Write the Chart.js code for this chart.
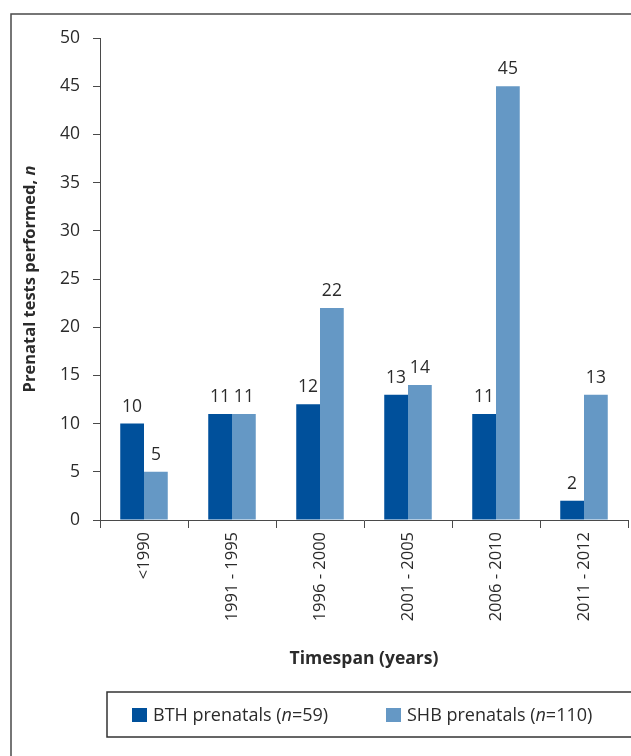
<!DOCTYPE html>
<html>
<head>
<meta charset="utf-8">
<script src="https://cdn.jsdelivr.net/npm/chart.js@4/dist/chart.umd.min.js"></script>
<style>
  body { margin: 0; background: #fff; }
  canvas { display: block; }
</style>
</head>
<body>
<canvas id="myChart" width="631" height="756"></canvas>
<script>
"use strict";

// chart data
const categories = ['<1990', '1991 - 1995', '1996 - 2000', '2001 - 2005', '2006 - 2010', '2011 - 2012'];
const bthValues  = [10, 11, 12, 13, 11, 2];
const shbValues  = [5, 11, 22, 14, 45, 13];
const yTicks     = [0, 5, 10, 15, 20, 25, 30, 35, 40, 45, 50];

// texts split so the n can be italic
const bthLegend = ['BTH prenatals (', 'n', '=59)'];
const shbLegend = ['SHB prenatals (', 'n', '=110)'];
const yTitle    = ['Prenatal tests performed, ', 'n'];

const FONT      = '"Open Sans", sans-serif';
const darkBlue  = '#00509b';
const lightBlue = '#6598c5';
const inkColor  = '#2b2b2b';
const lineColor = '#4a4a4a';

// frame around the figure
const framePlugin = {
    id: 'frame',
    beforeDraw(chart) {
        const ctx = chart.ctx;
        ctx.save();
        ctx.fillStyle = '#fff';
        ctx.fillRect(0, 0, chart.width, chart.height);
        ctx.strokeStyle = lineColor;
        ctx.lineWidth = 1.5;
        ctx.strokeRect(11, 14, 700, 800);
        ctx.restore();
    }
};

// value labels above the bars
const valueLabels = {
    id: 'valueLabels',
    afterDatasetsDraw(chart) {
        const ctx = chart.ctx;
        ctx.save();
        ctx.font = '17.5px ' + FONT;
        ctx.fillStyle = inkColor;
        ctx.textAlign = 'center';
        ctx.textBaseline = 'alphabetic';
        chart.data.datasets.forEach(function(ds, i) {
            chart.getDatasetMeta(i).data.forEach(function(bar, j) {
                ctx.fillText(String(ds.data[j]), bar.x, bar.y - 12);
            });
        });
        ctx.restore();
    }
};

// y title with an italic n, centred on the plot area
const yTitlePlugin = {
    id: 'yTitle',
    afterDraw(chart) {
        const ctx = chart.ctx;
        const area = chart.chartArea;
        const fonts = ['bold 16.5px ' + FONT, 'italic bold 16.5px ' + FONT];
        ctx.save();
        let total = 0;
        yTitle.forEach(function(part, k) {
            ctx.font = fonts[k];
            total += ctx.measureText(part).width;
        });
        const midY = (area.top + area.bottom) / 2;
        ctx.translate(30, midY + total / 2);
        ctx.rotate(-Math.PI / 2);
        ctx.fillStyle = inkColor;
        ctx.textAlign = 'left';
        ctx.textBaseline = 'middle';
        let x = 0;
        yTitle.forEach(function(part, k) {
            ctx.font = fonts[k];
            ctx.fillText(part, x, 0);
            x += ctx.measureText(part).width;
        });
        ctx.restore();
    }
};

// boxed legend at the bottom
const boxLegend = {
    id: 'boxLegend',
    afterDraw(chart) {
        const ctx = chart.ctx;
        ctx.save();
        ctx.strokeStyle = '#333';
        ctx.lineWidth = 1.5;
        ctx.strokeRect(107, 692, 600, 45);

        const items = [
            { x: 132, color: chart.data.datasets[0].backgroundColor, parts: bthLegend },
            { x: 386, color: chart.data.datasets[1].backgroundColor, parts: shbLegend }
        ];
        ctx.textBaseline = 'alphabetic';
        ctx.textAlign = 'left';
        items.forEach(function(item) {
            ctx.fillStyle = item.color;
            ctx.fillRect(item.x, 708, 15, 14);
            let x = item.x + 21;
            ctx.fillStyle = inkColor;
            item.parts.forEach(function(part, k) {
                ctx.font = (k === 1 ? 'italic ' : '') + '18px ' + FONT;
                ctx.fillText(part, x, 721);
                x += ctx.measureText(part).width;
            });
        });
        ctx.restore();
    }
};

const ctx = document.getElementById('myChart').getContext('2d');

new Chart(ctx, {
    type: 'bar',
    data: {
        labels: categories,
        datasets: [{
            label: bthLegend.join(''),
            data: bthValues,
            backgroundColor: darkBlue,
            categoryPercentage: 0.54,
            barPercentage: 1.0
        }, {
            label: shbLegend.join(''),
            data: shbValues,
            backgroundColor: lightBlue,
            categoryPercentage: 0.54,
            barPercentage: 1.0
        }]
    },
    options: {
        responsive: false,
        animation: false,
        layout: {
            padding: { top: 38, right: 3, bottom: 76, left: 0 }
        },
        plugins: {
            legend: { display: false },
            tooltip: { enabled: false }
        },
        scales: {
            x: {
                afterFit(scale) { scale.height = 160; },
                grid: {
                    drawOnChartArea: false,
                    drawTicks: true,
                    tickLength: 8,
                    color: lineColor,
                    offset: true
                },
                border: { display: true, color: lineColor, width: 1 },
                ticks: {
                    autoSkip: false,
                    minRotation: 90,
                    maxRotation: 90,
                    padding: 4,
                    color: inkColor,
                    font: { family: FONT, size: 16.5 }
                },
                title: {
                    display: true,
                    text: 'Timespan (years)',
                    color: inkColor,
                    font: { family: FONT, size: 17.5, weight: 'bold' },
                    padding: { top: 0, bottom: 10 }
                }
            },
            y: {
                min: 0,
                max: 50,
                afterFit(scale) { scale.width = 100; },
                afterBuildTicks(scale) {
                    scale.ticks = yTicks.map(function(v) { return { value: v }; });
                },
                grid: {
                    drawOnChartArea: false,
                    drawTicks: true,
                    tickLength: 7,
                    color: lineColor
                },
                border: { display: true, color: lineColor, width: 1 },
                ticks: {
                    padding: 13,
                    color: inkColor,
                    font: { family: FONT, size: 17.5 }
                },
                title: { display: false }
            }
        }
    },
    plugins: [framePlugin, valueLabels, yTitlePlugin, boxLegend]
});
</script>
</body>
</html>
